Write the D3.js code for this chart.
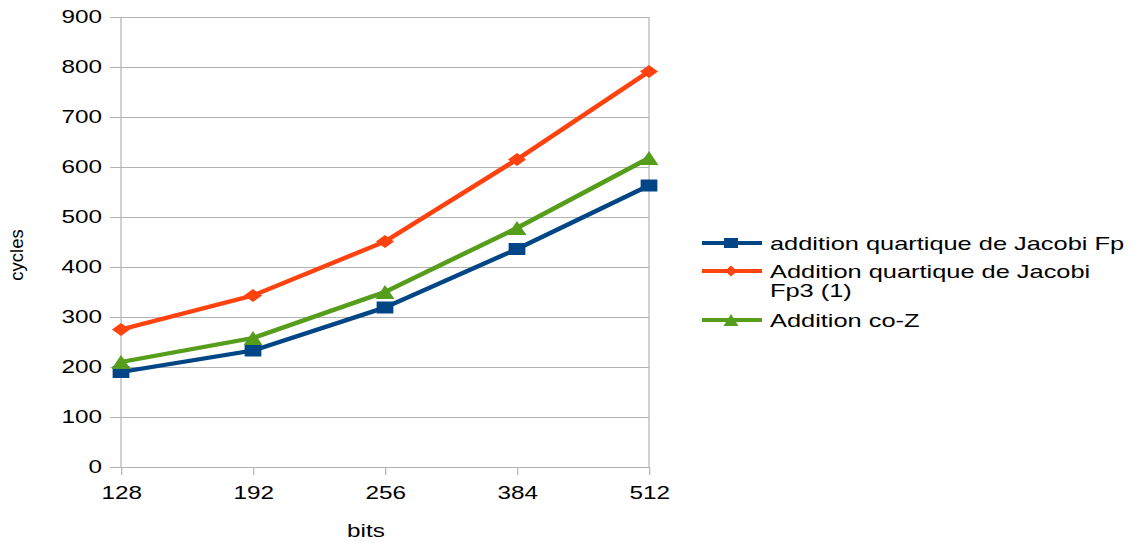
<!DOCTYPE html>
<html>
<head>
<meta charset="utf-8">
<script src="https://cdn.jsdelivr.net/npm/d3@7"></script>
<style>
  html, body { margin: 0; padding: 0; background: #fff; }
  svg { display: block; }
  text { font-family: "Liberation Sans", Arial, sans-serif; fill: #000; }
</style>
</head>
<body>
<div id="chart"></div>
<script>
// ---- data ----
const categories = ["128", "192", "256", "384", "512"];
const seriesNames = ["addition quartique de Jacobi Fp", "Addition quartique de Jacobi Fp3 (1)", "Addition co-Z"];
const jacobiFp  = [190, 233, 319, 436, 563];
const jacobiFp3 = [275, 343, 451, 615, 791];
const additionCoZ = [210, 258, 350, 478, 618];
const yTicks = [0, 100, 200, 300, 400, 500, 600, 700, 800, 900];
const legendLines = [["addition quartique de Jacobi Fp"], ["Addition quartique de Jacobi", "Fp3 (1)"], ["Addition co-Z"]];
const xTitle = "bits";
const yTitle = "cycles";

// ---- layout (the chart is horizontally stretched, as in the reference) ----
const WIDTH = 1132, HEIGHT = 542, SX = 1.35;
const VW = WIDTH / SX;
const px = v => v / SX; // convert final-pixel x to viewBox x

const colors = ["#004586", "#ff420e", "#579d1c"];
const shapes = ["square", "diamond", "triangle"];
const seriesValues = [jacobiFp, jacobiFp3, additionCoZ];

const svg = d3.select("#chart").append("svg")
  .attr("width", WIDTH).attr("height", HEIGHT)
  .attr("viewBox", `0 0 ${VW} ${HEIGHT}`)
  .attr("preserveAspectRatio", "none");

const plotLeft = px(121), plotRight = px(649), plotTop = 17, plotBottom = 467;

const x = d3.scalePoint().domain(categories).range([plotLeft, plotRight]);
const y = d3.scaleLinear().domain([0, 900]).range([plotBottom, plotTop]);

const grid = "#b3b3b3";

// horizontal grid lines
svg.append("g").selectAll("line").data(yTicks).join("line")
  .attr("x1", plotLeft).attr("x2", plotRight)
  .attr("y1", d => y(d)).attr("y2", d => y(d))
  .attr("stroke", grid).attr("stroke-width", 1)
  .attr("shape-rendering", "crispEdges");

// left and right border lines
svg.append("g").selectAll("line").data([plotLeft, plotRight]).join("line")
  .attr("x1", d => d).attr("x2", d => d)
  .attr("y1", plotTop).attr("y2", plotBottom)
  .attr("stroke", grid).attr("stroke-width", 1 / SX * 1.2);

// y axis
const yAxis = svg.append("g").attr("transform", `translate(${plotLeft},0)`)
  .call(d3.axisLeft(y).tickValues(yTicks).tickSize(px(11)).tickPadding(px(8)));
yAxis.select(".domain").remove();
yAxis.selectAll(".tick line").attr("stroke", grid).attr("shape-rendering", "crispEdges");
yAxis.selectAll(".tick text").attr("font-size", 18).attr("fill", "#000")
  .style("font-family", '"Liberation Sans", Arial, sans-serif');

// x axis
const xAxis = svg.append("g").attr("transform", `translate(0,${plotBottom})`)
  .call(d3.axisBottom(x).tickSize(8).tickPadding(11));
xAxis.select(".domain").remove();
xAxis.selectAll(".tick line").attr("stroke", grid).attr("stroke-width", 1 / SX * 1.2);
xAxis.selectAll(".tick text").attr("font-size", 18).attr("fill", "#000")
  .style("font-family", '"Liberation Sans", Arial, sans-serif');

// axis titles
svg.append("text").attr("x", px(366)).attr("y", 537)
  .attr("text-anchor", "middle").attr("font-size", 18).text(xTitle);
svg.append("g").attr("transform", `translate(${px(23)},255) scale(${1 / SX},1) rotate(-90)`)
  .append("text").attr("text-anchor", "middle").attr("font-size", 18.5).text(yTitle);

// marker paths (w, h in viewBox units)
function marker(shape, cx, cy, w, h) {
  const hw = w / 2, hh = h / 2;
  if (shape === "square")
    return `M${cx - hw},${cy - hh}H${cx + hw}V${cy + hh}H${cx - hw}Z`;
  if (shape === "diamond")
    return `M${cx},${cy - hh}L${cx + hw},${cy}L${cx},${cy + hh}L${cx - hw},${cy}Z`;
  return `M${cx},${cy - hh}L${cx + hw},${cy + hh}L${cx - hw},${cy + hh}Z`;
}
const plotMarkerSize = { square: [12.4, 12], diamond: [13.4, 13], triangle: [14, 14] };
const legendMarkerSize = { square: [10.4, 10], diamond: [9, 11], triangle: [11, 12] };

const line = d3.line().x((d, i) => x(categories[i])).y(d => y(d));

seriesValues.forEach((vals, si) => {
  const g = svg.append("g");
  g.append("path").datum(vals).attr("d", line)
    .attr("fill", "none").attr("stroke", colors[si]).attr("stroke-width", 4.2)
    .attr("stroke-linejoin", "round");
  const [mw, mh] = plotMarkerSize[shapes[si]];
  g.selectAll("path.m").data(vals).join("path").attr("class", "m")
    .attr("d", (d, i) => marker(shapes[si], x(categories[i]), y(d), mw, mh))
    .attr("fill", colors[si]);
});

// legend
const legendRowY = [243, 271, 320];
const legendBaselines = [[250], [278, 297], [327]];
const leg = svg.append("g");
seriesNames.forEach((name, si) => {
  const gy = legendRowY[si];
  leg.append("line").attr("x1", px(702)).attr("x2", px(762))
    .attr("y1", gy).attr("y2", gy)
    .attr("stroke", colors[si]).attr("stroke-width", 4.2);
  const [mw, mh] = legendMarkerSize[shapes[si]];
  leg.append("path").attr("d", marker(shapes[si], px(731), gy, mw, mh)).attr("fill", colors[si]);
  const t = leg.append("text").attr("font-size", 18.8);
  legendLines[si].forEach((ln, li) => {
    t.append("tspan").attr("x", px(770)).attr("y", legendBaselines[si][li]).text(ln);
  });
});
</script>
</body>
</html>
